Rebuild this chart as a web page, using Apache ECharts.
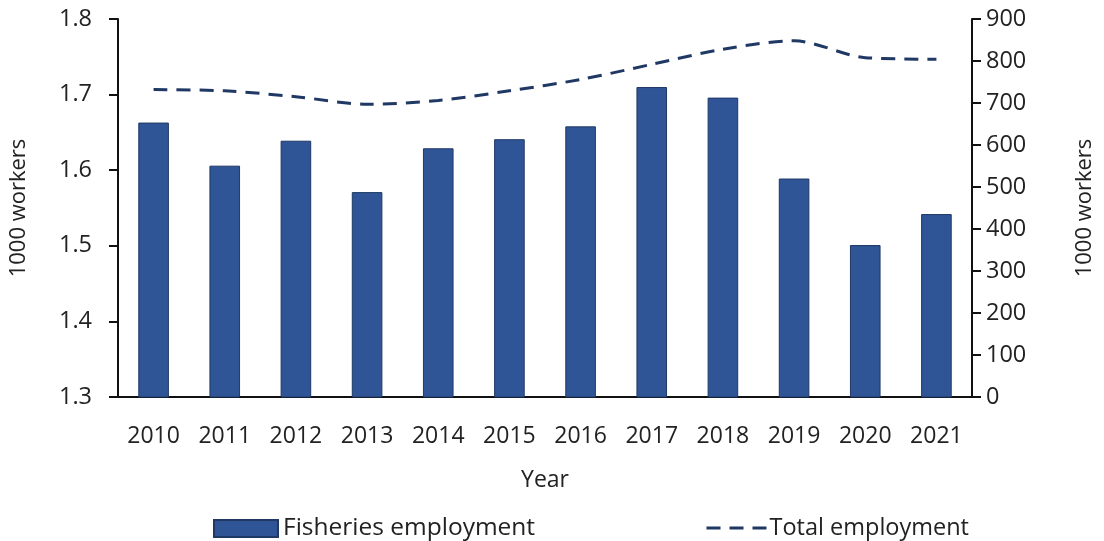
<!DOCTYPE html>
<html>
<head>
<meta charset="utf-8">
<script src="https://cdn.jsdelivr.net/npm/echarts@6/dist/echarts.min.js"></script>
<style>
  html, body { margin: 0; padding: 0; background: #fff; }
  #chart { width: 1104px; height: 541px; }
</style>
</head>
<body>
<div id="chart"></div>
<script>
// Employment by year: fisheries (left axis, 1000 workers) and total (right axis, 1000 workers)
const years = ['2010', '2011', '2012', '2013', '2014', '2015', '2016', '2017', '2018', '2019', '2020', '2021'];
const fisheriesEmployment = [1.663, 1.606, 1.639, 1.571, 1.629, 1.641, 1.658, 1.710, 1.696, 1.589, 1.501, 1.542];
const totalEmployment = [732, 729, 715, 697, 706, 729, 756, 792, 828, 848, 808, 804];

const FONT = '"Open Sans", "Liberation Sans", sans-serif';
const TEXT = '#222222';
const BAR = '#2F5597';
const LINE = '#1F3864';
const DASH = [14, 9];

const chart = echarts.init(document.getElementById('chart'), null, { renderer: 'canvas' });

chart.setOption({
  animation: false,
  backgroundColor: '#ffffff',
  textStyle: { fontFamily: FONT, color: TEXT },
  grid: { left: 118, right: 132, top: 19, bottom: 144, containLabel: false },
  legend: [
    {
      data: [{ name: 'Fisheries employment', icon: 'rect' }],
      left: 208, top: 511,
      itemWidth: 64, itemHeight: 17, itemGap: 10,
      textStyle: { fontFamily: FONT, fontSize: 24.5, color: TEXT, padding: [0, 0, 0, 0] }
    },
    {
      data: [{ name: 'Total employment' }],
      left: 700, top: 511,
      itemWidth: 60, itemHeight: 17,
      itemStyle: { opacity: 0 },
      lineStyle: { color: LINE, width: 3, type: DASH },
      textStyle: { fontFamily: FONT, fontSize: 23.5, color: TEXT, padding: [0, 0, 0, -2] }
    }
  ],
  xAxis: {
    type: 'category',
    data: years,
    name: 'Year',
    nameLocation: 'middle',
    nameGap: 72,
    nameTextStyle: { fontFamily: FONT, fontSize: 23, color: TEXT },
    axisLine: { lineStyle: { color: '#111', width: 2 } },
    axisTick: { show: false },
    axisLabel: { fontFamily: FONT, fontSize: 23, color: TEXT, margin: 28 }
  },
  yAxis: [
    {
      type: 'value',
      min: 1.3, max: 1.8, interval: 0.1,
      name: '1000 workers',
      nameLocation: 'middle',
      nameGap: 88,
      nameRotate: 90,
      nameTextStyle: { fontFamily: FONT, fontSize: 22, color: TEXT },
      axisLine: { show: true, lineStyle: { color: '#111', width: 2 } },
      axisTick: { show: true, length: 9, lineStyle: { color: '#111', width: 2 } },
      splitLine: { show: false },
      axisLabel: { fontFamily: FONT, fontSize: 23.5, color: TEXT, margin: 26,
        formatter: v => v.toFixed(1) }
    },
    {
      type: 'value',
      min: 0, max: 900, interval: 100,
      name: '1000 workers',
      nameLocation: 'middle',
      nameGap: 102,
      nameRotate: 90,
      nameTextStyle: { fontFamily: FONT, fontSize: 22, color: TEXT },
      axisLine: { show: true, lineStyle: { color: '#111', width: 2 } },
      axisTick: { show: true, length: 9, lineStyle: { color: '#111', width: 2 } },
      splitLine: { show: false },
      axisLabel: { fontFamily: FONT, fontSize: 23.5, color: TEXT, margin: 14 }
    }
  ],
  series: [
    {
      name: 'Fisheries employment',
      type: 'bar',
      yAxisIndex: 0,
      data: fisheriesEmployment,
      barWidth: '43%',
      itemStyle: { color: BAR, borderColor: '#1F3864', borderWidth: 1 }
    },
    {
      name: 'Total employment',
      type: 'line',
      yAxisIndex: 1,
      data: totalEmployment,
      smooth: 0.3,
      symbol: 'none',
      lineStyle: { color: LINE, width: 3, type: DASH },
      itemStyle: { color: LINE }
    }
  ]
});
</script>
</body>
</html>
